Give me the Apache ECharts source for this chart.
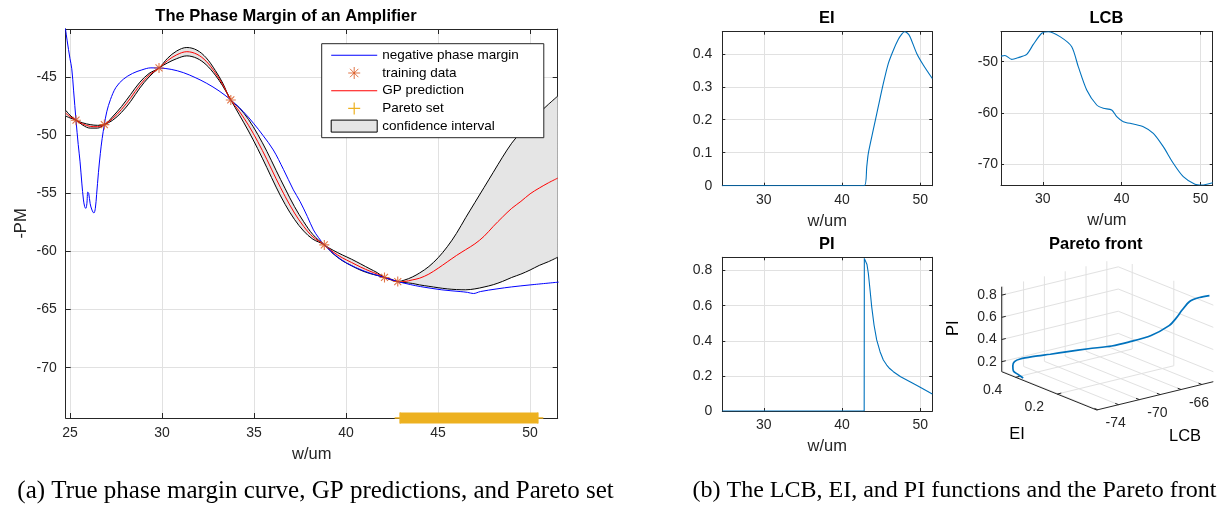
<!DOCTYPE html>
<html>
<head>
<meta charset="utf-8">
<script src="https://cdn.jsdelivr.net/npm/echarts@6/dist/echarts.min.js"></script>
<style>
  html, body { margin: 0; padding: 0; background: #fff; }
  #chart { width: 1219px; height: 505px; }
</style>
</head>
<body>
<div id="chart"></div>
<script>
// ---- values ----
// (a) true -PM curve
const trueW = [24.70, 24.85, 25.00, 25.10, 25.20, 25.33, 25.45, 25.55, 25.65, 25.73, 25.80, 25.86, 25.92, 25.97, 26.02, 26.10, 26.20, 26.30, 26.38, 26.45, 26.55, 26.65, 26.75, 26.87, 27.00, 27.20, 27.50, 27.90, 28.40, 28.90, 29.40, 29.84, 30.50, 31.16, 31.80, 32.43, 33.10, 33.74, 34.40, 34.97, 35.50, 36.05, 36.60, 37.14, 37.50, 37.90, 38.23, 38.50, 38.82, 39.40, 40.03, 41.00, 42.09, 42.81, 43.50, 44.04, 45.20, 46.20, 46.60, 46.92, 47.30, 48.20, 49.00, 50.00, 51.55];
const truePM = [-40.2, -41.9, -43.4, -44.3, -46.2, -48.72, -50.8, -52.3, -54.2, -55.5, -56.15, -56.3, -55.9, -54.9, -55.0, -55.9, -56.45, -56.7, -56.3, -55.1, -53.2, -51.6, -50.3, -49.10, -48.0, -46.95, -45.9, -45.2, -44.7, -44.4, -44.22, -44.23, -44.35, -44.63, -45.05, -45.55, -46.2, -46.98, -47.95, -48.98, -50.05, -51.28, -52.95, -54.71, -55.7, -57.0, -58.15, -58.8, -59.44, -60.3, -61.0, -61.7, -62.24, -62.59, -62.85, -63.02, -63.3, -63.45, -63.52, -63.62, -63.45, -63.22, -63.05, -62.88, -62.64];

// GP prediction and confidence bounds
const gpW = [24.77, 25.0, 25.33, 25.7, 26.1, 26.5, 26.87, 27.3, 27.8, 28.3, 28.8, 29.3, 29.84, 30.3, 30.8, 31.35, 31.9, 32.4, 32.9, 33.3, 33.74, 34.2, 34.7, 35.2, 35.7, 36.2, 36.7, 37.2, 37.7, 38.2, 38.82, 39.3, 39.8, 40.3, 40.8, 41.3, 41.7, 42.09, 42.45, 42.81, 43.2, 43.6, 44.0, 44.5, 45.0, 45.5, 46.0, 46.5, 47.0, 47.5, 48.0, 48.5, 49.0, 49.5, 50.0, 50.5, 51.0, 51.5];
const gpMean = [-48.12, -48.4, -48.72, -49.05, -49.25, -49.28, -49.1, -48.6, -47.8, -46.8, -45.7, -44.85, -44.23, -43.6, -43.1, -42.83, -43.05, -43.65, -44.65, -45.65, -46.98, -47.95, -49.15, -50.55, -52.1, -53.75, -55.3, -56.7, -57.85, -58.75, -59.44, -60.05, -60.55, -60.95, -61.35, -61.7, -61.95, -62.24, -62.42, -62.59, -62.58, -62.45, -62.3, -61.95, -61.45, -60.9, -60.35, -59.85, -59.35, -58.7, -57.85, -57.05, -56.3, -55.7, -55.05, -54.55, -54.1, -53.7];
const gpUpper = [-47.87, -48.28, -48.72, -48.95, -49.1, -49.16, -49.1, -48.45, -47.55, -46.5, -45.45, -44.7, -44.23, -43.4, -42.77, -42.47, -42.7, -43.35, -44.45, -45.53, -46.98, -47.65, -48.65, -49.93, -51.4, -53.03, -54.62, -56.15, -57.45, -58.55, -59.44, -59.9, -60.3, -60.67, -61.08, -61.5, -61.83, -62.24, -62.39, -62.59, -62.45, -62.2, -61.85, -61.3, -60.55, -59.6, -58.45, -57.1, -55.8, -54.5, -53.2, -51.9, -50.7, -49.75, -48.9, -48.1, -47.35, -46.65];
const gpLower = [-48.37, -48.52, -48.72, -49.15, -49.4, -49.4, -49.1, -48.75, -48.05, -47.1, -45.95, -45.0, -44.23, -43.8, -43.43, -43.19, -43.4, -43.95, -44.85, -45.77, -46.98, -48.25, -49.65, -51.17, -52.8, -54.47, -55.98, -57.25, -58.25, -58.95, -59.44, -60.2, -60.8, -61.23, -61.62, -61.9, -62.07, -62.24, -62.45, -62.59, -62.68, -62.75, -62.88, -63.0, -63.12, -63.22, -63.28, -63.3, -63.22, -63.06, -62.86, -62.58, -62.24, -61.95, -61.6, -61.2, -60.88, -60.5];

const trainW = [25.33, 26.87, 29.84, 33.74, 38.82, 42.09, 42.81];
const trainPM = [-48.72, -49.10, -44.23, -46.98, -59.44, -62.24, -62.59];
const paretoSet = [42.94, 50.42]; // w range covered by the Pareto set

// (b) acquisition functions
const eiW = [24.7, 42.86, 43.17, 43.37, 44.0, 44.6, 45.29, 45.93, 46.57, 47.21, 47.6, 47.97, 48.35, 48.7, 49.56, 50.4, 51.55];
const eiVal = [0, 0, 0.058, 0.098, 0.169, 0.235, 0.31, 0.371, 0.411, 0.444, 0.458, 0.467, 0.463, 0.452, 0.401, 0.366, 0.325];
const lcbW = [24.7, 25.2, 26.06, 26.89, 27.96, 28.8, 29.86, 30.7, 32.18, 33.67, 34.5, 35.57, 36.84, 37.68, 38.74, 39.38, 40.21, 41.48, 42.75, 44.02, 45.28, 46.55, 47.82, 49.3, 50.15, 51.55];
const lcbVal = [-48.91, -48.77, -49.55, -49.21, -48.57, -46.62, -44.44, -44.13, -45.1, -47.06, -50.97, -55.53, -58.46, -59.1, -59.43, -60.74, -61.72, -62.17, -62.7, -63.99, -66.6, -69.85, -72.47, -73.96, -74.1, -73.65];
const piW = [24.7, 42.84, 42.86, 43.04, 43.2, 43.37, 43.59, 43.8, 44.1, 44.44, 44.87, 45.29, 45.72, 46.1, 46.57, 47.5, 48.7, 49.3, 50.0, 51.55];
const piVal = [0, 0, 0.87, 0.876, 0.835, 0.785, 0.69, 0.595, 0.49, 0.405, 0.338, 0.291, 0.262, 0.242, 0.224, 0.195, 0.167, 0.152, 0.135, 0.097];

// Pareto front (LCB, EI, PI along the Pareto set)
const frontLCB = [-62.95, -63.16, -63.36, -63.56, -63.77, -63.97, -64.78, -65.81, -66.65, -67.93, -69.21, -70.37, -71.4, -72.43, -72.95, -73.45, -73.96, -74.04, -74.05];
const frontEI = [0.026, 0.063, 0.101, 0.126, 0.147, 0.169, 0.215, 0.272, 0.311, 0.359, 0.394, 0.42, 0.447, 0.462, 0.463, 0.446, 0.418, 0.39, 0.366];
const frontPI = [0.875, 0.835, 0.775, 0.685, 0.595, 0.52, 0.415, 0.335, 0.29, 0.258, 0.235, 0.218, 0.201, 0.19, 0.177, 0.165, 0.152, 0.14, 0.128];

const lcbTicks3d = [-74, -72, -70, -68, -66, -64];
const lcbLabels3d = [-74, -70, -66];
const eiTicks3d = [0.2, 0.4];
const piTicks3d = [0.2, 0.4, 0.6, 0.8];

// ---- styling ----
const sans = '"Liberation Sans", Arial, Helvetica, sans-serif';
const serif = '"Liberation Serif", "Times New Roman", serif';
const axisColor = '#262626';
const gridColor = '#e1e1e1';
const trueColor = '#0000ff';
const gpColor = '#ff0000';
const trainColor = '#d95319';
const paretoColor = '#edb120';
const bandColor = '#e5e5e5';
const curveColor = '#0072bd';

const starIcon = 'path://M5 0V10M0 5H10M1.5 1.5L8.5 8.5M8.5 1.5L1.5 8.5';
const plusIcon = 'path://M5 0V10M0 5H10';
const lineIcon = 'path://M0 0H46V1H0Z';

const mainX = [24.77, 51.5];
const mainY = [-74.32, -40.88];
const sideX = [24.7, 51.55];

// 3-D box of the Pareto front and the screen direction of each of its axes
const box3d = { lcb: [-74.1, -62.9], ei: [0.01, 0.467], pi: [0.11, 0.876] };
const view3d = { lcb: [1.166, 0.283], ei: [-0.95, 0.383], pi: [0, 0.85] };
function project(l, e, p) {
  const a = (l - box3d.lcb[0]) / (box3d.lcb[1] - box3d.lcb[0]);
  const b = (e - box3d.ei[0]) / (box3d.ei[1] - box3d.ei[0]);
  const c = (p - box3d.pi[0]) / (box3d.pi[1] - box3d.pi[0]);
  return [
    a * view3d.lcb[0] + b * view3d.ei[0] + c * view3d.pi[0],
    a * view3d.lcb[1] + b * view3d.ei[1] + c * view3d.pi[1]
  ];
}

function zip(xs, ys) {
  return xs.map((x, i) => [x, ys[i]]);
}

const grid = [
  { left: 65.7, top: 29, width: 492, height: 389 },
  { left: 722.3, top: 31.7, width: 210, height: 154 },
  { left: 1001, top: 31.7, width: 211.7, height: 153.3 },
  { left: 722.3, top: 257.3, width: 210, height: 153.7 },
  { left: 1001.7, top: 258.4, width: 211.6, height: 151.6 }
].map(g => Object.assign(g, { outerBoundsMode: 'none', containLabel: false }));

const xAxis = [];
const yAxis = [];

// bottom/left axes with labels plus mirrored top/right axes (MATLAB box)
function boxAxes(gridIndex, xr, yr, xStep, yStep, o) {
  const line = { show: true, onZero: false, lineStyle: { color: axisColor, width: 1 } };
  const tick = { show: true, inside: true, length: o.tick, lineStyle: { color: axisColor, width: 1 } };
  const label = { color: axisColor, fontSize: 14, fontFamily: sans };
  const split = { show: true, showMinLine: false, showMaxLine: false, lineStyle: { color: gridColor, width: 1 } };
  const nameStyle = { color: axisColor, fontSize: 16.5, fontFamily: sans };
  xAxis.push({
    type: 'value', gridIndex, position: 'bottom', min: xr[0], max: xr[1],
    minInterval: xStep, maxInterval: xStep,
    axisLine: line, axisTick: tick, splitLine: split,
    axisLabel: Object.assign({ margin: o.xMargin, showMinLabel: false, showMaxLabel: false }, label),
    name: 'w/um', nameLocation: 'middle', nameGap: o.xGap, nameTextStyle: nameStyle
  }, {
    type: 'value', gridIndex, position: 'top', min: xr[0], max: xr[1],
    minInterval: xStep, maxInterval: xStep,
    axisLine: line, axisTick: tick, splitLine: { show: false }, axisLabel: { show: false }
  });
  yAxis.push({
    type: 'value', gridIndex, position: 'left', min: yr[0], max: yr[1],
    minInterval: yStep, maxInterval: yStep,
    axisLine: line, axisTick: tick, splitLine: split,
    axisLabel: Object.assign({ margin: o.yMargin, showMinLabel: o.zeroLabel, showMaxLabel: false }, label),
    name: o.yName || '', nameLocation: 'middle', nameGap: o.yGap || 0, nameTextStyle: nameStyle
  }, {
    type: 'value', gridIndex, position: 'right', min: yr[0], max: yr[1],
    minInterval: yStep, maxInterval: yStep,
    axisLine: line, axisTick: tick, splitLine: { show: false }, axisLabel: { show: false }
  });
}

boxAxes(0, mainX, mainY, 5, 5, { tick: 5, xMargin: 8, yMargin: 9, xGap: 28, yName: '-PM', yGap: 36, zeroLabel: false });
boxAxes(1, sideX, [0, 0.467], 10, 0.1, { tick: 3, xMargin: 7, yMargin: 10, xGap: 27, zeroLabel: true });
boxAxes(2, sideX, [-74.1, -44.13], 10, 10, { tick: 3, xMargin: 7, yMargin: 3, xGap: 27, zeroLabel: false });
boxAxes(3, sideX, [0, 0.876], 10, 0.2, { tick: 3, xMargin: 7, yMargin: 10, xGap: 27, zeroLabel: true });

// hidden plane for the projected 3-D view
xAxis.push({ type: 'value', gridIndex: 4, show: false, min: view3d.ei[0], max: view3d.lcb[0] });
yAxis.push({ type: 'value', gridIndex: 4, show: false, min: 0, max: view3d.lcb[1] + view3d.ei[1] + view3d.pi[1] });

const smoothLine = 0.35;

const series = [
  {
    name: 'confidence interval', type: 'custom', xAxisIndex: 0, yAxisIndex: 0,
    data: [[gpW[0], gpMean[0]]], clip: true, z: 1, silent: true,
    itemStyle: { color: bandColor, borderColor: '#000', borderWidth: 1 },
    renderItem: (params, api) => {
      const top = gpW.map((w, i) => api.coord([w, gpUpper[i]]));
      const bottom = gpW.map((w, i) => api.coord([w, gpLower[i]])).reverse();
      return { type: 'polygon', shape: { points: top.concat(bottom) }, style: { fill: bandColor } };
    }
  },
  {
    name: 'upper bound', type: 'line', xAxisIndex: 0, yAxisIndex: 0, data: zip(gpW, gpUpper),
    smooth: smoothLine, symbol: 'none', lineStyle: { color: '#000', width: 1 }, z: 2, silent: true
  },
  {
    name: 'lower bound', type: 'line', xAxisIndex: 0, yAxisIndex: 0, data: zip(gpW, gpLower),
    smooth: smoothLine, symbol: 'none', lineStyle: { color: '#000', width: 1 }, z: 2, silent: true
  },
  {
    name: 'GP prediction', type: 'line', xAxisIndex: 0, yAxisIndex: 0, data: zip(gpW, gpMean),
    smooth: smoothLine, symbol: 'none', itemStyle: { color: gpColor },
    lineStyle: { color: gpColor, width: 1 }, z: 3, silent: true
  },
  {
    name: 'negative phase margin', type: 'line', xAxisIndex: 0, yAxisIndex: 0, data: zip(trueW, truePM),
    smooth: smoothLine, symbol: 'none', itemStyle: { color: trueColor },
    lineStyle: { color: trueColor, width: 1 }, z: 4, silent: true
  },
  {
    name: 'training data', type: 'scatter', xAxisIndex: 0, yAxisIndex: 0, data: zip(trainW, trainPM),
    symbol: starIcon, symbolSize: 10,
    itemStyle: { color: 'rgba(0,0,0,0)', borderColor: trainColor, borderWidth: 1.1 }, z: 5, silent: true
  },
  {
    name: 'Pareto set', type: 'line', xAxisIndex: 0, yAxisIndex: 0,
    data: paretoSet.map(w => [w, mainY[0]]), clip: false,
    symbol: plusIcon, symbolSize: 11, showSymbol: true,
    itemStyle: { color: 'rgba(0,0,0,0)', borderColor: paretoColor, borderWidth: 1.5 },
    lineStyle: { color: paretoColor, width: 11, cap: 'butt' }, z: 6, silent: true
  },
  {
    name: 'EI', type: 'line', xAxisIndex: 2, yAxisIndex: 2, data: zip(eiW, eiVal),
    smooth: 0.25, symbol: 'none', lineStyle: { color: curveColor, width: 1.1 }, z: 3, silent: true
  },
  {
    name: 'LCB', type: 'line', xAxisIndex: 4, yAxisIndex: 4, data: zip(lcbW, lcbVal),
    smooth: 0.25, symbol: 'none', lineStyle: { color: curveColor, width: 1.1 }, z: 3, silent: true
  },
  {
    name: 'PI', type: 'line', xAxisIndex: 6, yAxisIndex: 6, data: zip(piW, piVal),
    smooth: false, symbol: 'none', lineStyle: { color: curveColor, width: 1.1 }, z: 3, silent: true
  },
  {
    name: 'front box', type: 'custom', xAxisIndex: 8, yAxisIndex: 8, data: [[0, 0]], z: 1, silent: true,
    renderItem: (params, api) => {
      const [l0, l1] = box3d.lcb;
      const [e0, e1] = box3d.ei;
      const [p0, p1] = box3d.pi;
      const at = (l, e, p) => api.coord(project(l, e, p));
      const seg = (a, b, stroke) => ({
        type: 'line', shape: { x1: a[0], y1: a[1], x2: b[0], y2: b[1] }, style: { stroke, lineWidth: 1 }
      });
      const text = (pos, str, dx, dy, align) => ({
        type: 'text', x: pos[0] + dx, y: pos[1] + dy,
        style: { text: str, fill: axisColor, font: '14px ' + sans, align, verticalAlign: 'middle', textAlign: align, textVerticalAlign: 'middle' }
      });
      const kids = [];
      lcbTicks3d.forEach(l => {
        kids.push(seg(at(l, e0, p0), at(l, e1, p0), gridColor));
        kids.push(seg(at(l, e1, p0), at(l, e1, p1), gridColor));
      });
      eiTicks3d.forEach(e => {
        kids.push(seg(at(l0, e, p0), at(l1, e, p0), gridColor));
        kids.push(seg(at(l1, e, p0), at(l1, e, p1), gridColor));
      });
      piTicks3d.forEach(p => {
        kids.push(seg(at(l0, e1, p), at(l1, e1, p), gridColor));
        kids.push(seg(at(l1, e1, p), at(l1, e0, p), gridColor));
      });
      kids.push(seg(at(l0, e1, p0), at(l0, e1, p1), axisColor));
      kids.push(seg(at(l0, e1, p0), at(l0, e0, p0), axisColor));
      kids.push(seg(at(l0, e0, p0), at(l1, e0, p0), axisColor));
      const tl = 0.035;
      piTicks3d.forEach(p => {
        kids.push(seg(at(l0, e1, p), at(l0 + tl * (l1 - l0), e1, p), axisColor));
        kids.push(text(at(l0, e1, p), String(p), -5, 0, 'right'));
      });
      eiTicks3d.forEach(e => {
        kids.push(seg(at(l0, e, p0), at(l0 + tl * (l1 - l0), e, p0), axisColor));
        kids.push(text(at(l0, e, p0), String(e), -23, 12.7, 'center'));
      });
      lcbTicks3d.forEach(l => {
        kids.push(seg(at(l, e0, p0), at(l, e0 + tl * (e1 - e0), p0), axisColor));
      });
      lcbLabels3d.forEach(l => kids.push(text(at(l, e0, p0), String(l), 18, 13.5, 'center')));
      return { type: 'group', children: kids };
    }
  },
  {
    name: 'Pareto front', type: 'line', xAxisIndex: 8, yAxisIndex: 8,
    data: frontLCB.map((l, i) => project(l, frontEI[i], frontPI[i])),
    smooth: 0.3, symbol: 'none', clip: false, lineStyle: { color: curveColor, width: 1.7 }, z: 3, silent: true
  }
];

function label(x, y, text, font, extra) {
  return Object.assign({
    type: 'text', x, y, z: 20, silent: true,
    style: { text, font, fill: '#000', align: 'center', verticalAlign: 'middle', textAlign: 'center', textVerticalAlign: 'middle' }
  }, extra || {});
}

const option = {
  animation: false,
  backgroundColor: '#fff',
  grid,
  xAxis,
  yAxis,
  legend: {
    orient: 'vertical', left: 321.7, top: 43.7, z: 10,
    padding: [4.6, 25, 4.6, 9], itemWidth: 46, itemHeight: 12, itemGap: 3.7,
    backgroundColor: '#fff', borderColor: axisColor, borderWidth: 1, borderRadius: 0,
    selectedMode: false, symbolKeepAspect: true,
    textStyle: { color: '#000', fontSize: 13.5, fontFamily: sans, lineHeight: 14 },
    data: [
      { name: 'negative phase margin', icon: lineIcon, itemStyle: { color: trueColor, borderWidth: 0 } },
      { name: 'training data', icon: starIcon, itemStyle: { color: 'rgba(0,0,0,0)', borderColor: trainColor, borderWidth: 1 } },
      { name: 'GP prediction', icon: lineIcon, itemStyle: { color: gpColor, borderWidth: 0 } },
      { name: 'Pareto set', icon: plusIcon, itemStyle: { color: 'rgba(0,0,0,0)', borderColor: paretoColor, borderWidth: 1.2 } },
      { name: 'confidence interval', icon: 'rect', itemStyle: { color: bandColor, borderColor: '#000', borderWidth: 1 } }
    ]
  },
  graphic: {
    elements: [
      label(286, 16, 'The Phase Margin of an Amplifier', 'bold 16.5px ' + sans),
      label(826.7, 18.5, 'EI', 'bold 16.5px ' + sans),
      label(1106.5, 18.5, 'LCB', 'bold 16.5px ' + sans),
      label(826.7, 244, 'PI', 'bold 16.5px ' + sans),
      label(1095.7, 244, 'Pareto front', 'bold 16.5px ' + sans),
      label(953.3, 328.3, 'PI', '16.5px ' + sans, { rotation: Math.PI / 2 }),
      label(1017, 434, 'EI', '16.5px ' + sans),
      label(1185, 436.5, 'LCB', '16.5px ' + sans),
      label(315.5, 491, '(a) True phase margin curve, GP predictions, and Pareto set', '25px ' + serif),
      label(954.5, 491, '(b) The LCB, EI, and PI functions and the Pareto front', '24px ' + serif)
    ]
  },
  series
};

const chart = echarts.init(document.getElementById('chart'));
chart.setOption(option);
</script>
</body>
</html>
